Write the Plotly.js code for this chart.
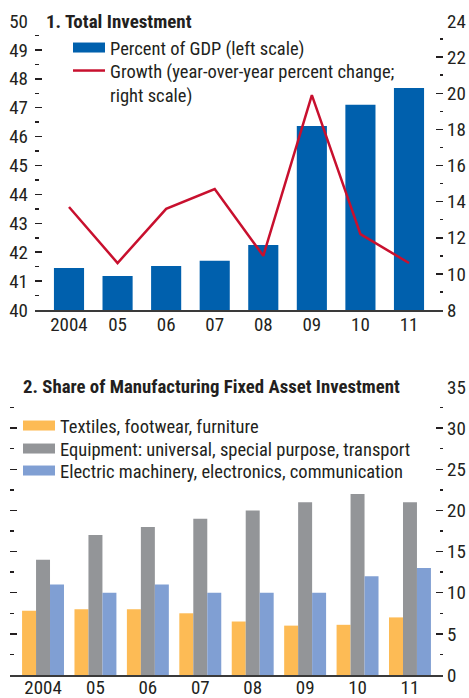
<!DOCTYPE html>
<html>
<head>
<meta charset="utf-8">
<script src="https://cdn.plot.ly/plotly-3.0.1.min.js"></script>
<style>
html,body{margin:0;padding:0;background:#fff;}
#chart{width:469px;height:698px;}
</style>
</head>
<body>
<div id="chart"></div>
<script>
// ---- data ----
const years = ['2004', '05', '06', '07', '08', '09', '10', '11'];
const gdpShare = [41.45, 41.18, 41.52, 41.70, 42.25, 46.37, 47.10, 47.68];
const growth = [13.7, 10.6, 13.6, 14.7, 11.0, 19.9, 12.2, 10.6];
const textiles = [7.8, 8.0, 8.0, 7.5, 6.5, 6.0, 6.1, 7.0];
const equipment = [14, 17, 18, 19, 20, 21, 22, 21];
const electric = [11, 10, 11, 10, 10, 10, 12, 13];

const nameGdp = 'Percent of GDP (left scale)';
const nameGrowth = 'Growth (year-over-year percent change;<br>right scale)';
const nameTextiles = 'Textiles, footwear, furniture';
const nameEquipment = 'Equipment: universal, special purpose, transport';
const nameElectric = 'Electric machinery, electronics, communication';

const FONT = '"Liberation Sans Narrow", "Roboto Condensed", "Arial Narrow", "Liberation Sans", sans-serif';
const TXT = '#231f20';
const C_BLUE = '#0060ad';
const C_RED = '#c8102e';
const C_ORANGE = '#fdbb55';
const C_GRAY = '#939598';
const C_LBLUE = '#809fd3';
const W = 469, H = 698;
const px = v => v / W;
const py = v => (H - v) / H;

const traces = [
  // top panel
  {type: 'bar', x: years, y: gdpShare, xaxis: 'x', yaxis: 'y', marker: {color: C_BLUE}, width: 0.62, showlegend: false, name: nameGdp},
  {type: 'scatter', mode: 'lines', x: [null], y: [null], xaxis: 'x', yaxis: 'y', line: {color: C_BLUE, width: 11}, name: nameGdp, legend: 'legend'},
  {type: 'scatter', mode: 'lines', x: years, y: growth, xaxis: 'x', yaxis: 'y2', line: {color: C_RED, width: 2.5}, name: nameGrowth, legend: 'legend3'},
  // bottom panel
  {type: 'bar', x: years, y: textiles, xaxis: 'x2', yaxis: 'y4', marker: {color: C_ORANGE}, showlegend: false, name: nameTextiles},
  {type: 'bar', x: years, y: equipment, xaxis: 'x2', yaxis: 'y4', marker: {color: C_GRAY}, showlegend: false, name: nameEquipment},
  {type: 'bar', x: years, y: electric, xaxis: 'x2', yaxis: 'y4', marker: {color: C_LBLUE}, showlegend: false, name: nameElectric},
  {type: 'scatter', mode: 'lines', x: [null], y: [null], xaxis: 'x2', yaxis: 'y3', line: {color: C_ORANGE, width: 11}, name: nameTextiles, legend: 'legend2'},
  {type: 'scatter', mode: 'lines', x: [null], y: [null], xaxis: 'x2', yaxis: 'y3', line: {color: C_GRAY, width: 11}, name: nameEquipment, legend: 'legend4'},
  {type: 'scatter', mode: 'lines', x: [null], y: [null], xaxis: 'x2', yaxis: 'y3', line: {color: C_LBLUE, width: 11}, name: nameElectric, legend: 'legend5'}
];

const yTick = (extra) => Object.assign({
  showgrid: false, zeroline: false, showline: false,
  ticks: 'inside', ticklen: 7, tickwidth: 1.5, tickcolor: TXT,
  tickfont: {family: FONT, size: 19, color: TXT},
  fixedrange: true
}, extra);

const xAx = (extra) => Object.assign({
  type: 'category', showgrid: false, zeroline: false,
  showline: true, linecolor: '#3a3a3a', linewidth: 1.5, ticks: '',
  ticklabelstandoff: -3,
  tickfont: {family: FONT, size: 19, color: TXT}, fixedrange: true
}, extra);

const leg = (xPix, centerPix) => ({
  x: px(xPix), xanchor: 'left', y: py(centerPix - 18), yanchor: 'top', bgcolor: 'rgba(0,0,0,0)',
  font: {family: FONT, size: 18.5, color: TXT}, itemwidth: 32, valign: 'top', tracegroupgap: 0,
  itemclick: false, itemdoubleclick: false
});

const layout = {
  width: W, height: H,
  margin: {l: 0, r: 0, t: 0, b: 0},
  paper_bgcolor: '#fff', plot_bgcolor: 'rgba(0,0,0,0)',
  font: {family: FONT, color: TXT},
  barmode: 'group', bargap: 0.2, bargroupgap: 0,
  xaxis: xAx({domain: [px(35), px(443)], anchor: 'y', range: [-0.7, 7.7]}),
  yaxis: yTick({domain: [py(310), py(21)], anchor: 'x', range: [40, 50], dtick: 1, ticklabelstandoff: 6,
    minor: {dtick: 0.5, ticks: 'inside', ticklen: 3.5, tickwidth: 1.5, tickcolor: TXT}}),
  yaxis2: yTick({overlaying: 'y', side: 'right', anchor: 'x', range: [8, 24], dtick: 2, ticklabelstandoff: 3,
    minor: {dtick: 1, ticks: 'inside', ticklen: 3.5, tickwidth: 1.5, tickcolor: TXT}}),
  xaxis2: xAx({domain: [px(10), px(443)], anchor: 'y3', range: [-0.63, 7.63], ticklabelstandoff: -5}),
  yaxis3: yTick({domain: [py(675), py(387)], anchor: 'x2', range: [0, 35], dtick: 5, showticklabels: false,
    minor: {dtick: 2.5, ticks: 'inside', ticklen: 4, tickwidth: 1.5, tickcolor: TXT}}),
  yaxis4: yTick({overlaying: 'y3', side: 'right', anchor: 'x2', range: [0, 35], dtick: 5, ticklabelstandoff: 3,
    minor: {dtick: 2.5, ticks: 'inside', ticklen: 3.5, tickwidth: 1.5, tickcolor: TXT}}),
  legend: leg(68, 47),
  legend3: leg(68, 70),
  legend2: leg(18, 425),
  legend4: leg(18, 448),
  legend5: leg(18, 470),
  annotations: [
    {text: '<b>1. Total Investment</b>', xref: 'paper', yref: 'paper', x: px(44), y: py(21),
      xanchor: 'left', yanchor: 'middle', showarrow: false, font: {family: FONT, size: 19, color: TXT}},
    {text: '<b>2. Share of Manufacturing Fixed Asset Investment</b>', xref: 'paper', yref: 'paper', x: px(21), y: py(387),
      xanchor: 'left', yanchor: 'middle', showarrow: false, font: {family: FONT, size: 18.8, color: TXT}}
  ]
};

Plotly.newPlot('chart', traces, layout, {displayModeBar: false, staticPlot: true});
</script>
</body>
</html>
